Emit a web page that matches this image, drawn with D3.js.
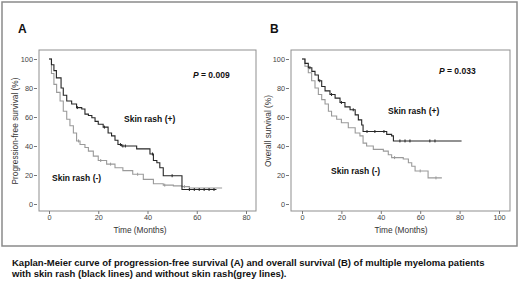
<!DOCTYPE html>
<html>
<head>
<meta charset="utf-8">
<script src="https://cdn.jsdelivr.net/npm/d3@7"></script>
<style>
  body { margin: 0; background: #fff; }
  svg { display: block; font-family: "Liberation Sans", Arial, sans-serif; }
</style>
</head>
<body>
<svg id="chart" width="520" height="281"></svg>
<script>
// panel A: progression-free survival
const pfsTimePos = [0, 1, 2, 3, 4.9, 5.8, 7.2, 9.2, 11.2, 13.3, 14.6, 16, 17.4, 18.7, 20, 22, 24, 25.4, 26.8, 28, 29.5, 34, 35.6, 39.6, 41, 42.4, 43.8, 45, 46.4, 53.2, 54, 68];
const pfsSurvPos = [100, 96, 92, 87, 80, 75, 71, 69, 66.5, 65.5, 62, 61, 59.5, 57, 55, 53, 49, 47, 44, 41, 40, 40, 38, 38, 34.5, 30, 28.5, 25, 19.5, 19.5, 10, 10];
const pfsTimeNeg = [0, 1, 2, 3.1, 4.5, 5.8, 7.2, 8.5, 9.9, 11.2, 12.6, 14.6, 16, 18, 20, 23.4, 26.8, 30, 34, 38.3, 42.4, 46.4, 50.5, 54, 57, 70.3];
const pfsSurvNeg = [100, 90, 82.5, 77, 71, 64, 58.5, 54, 49, 43.5, 41, 39, 36.5, 33, 30, 27.5, 25, 23, 20.5, 17, 14, 13, 12.5, 12, 11, 11];
const pfsCensorPos = [11.5, 22.5, 29, 30, 31, 42, 50, 57, 59, 61, 63, 65, 67];
const pfsCensorNeg = [12, 21, 25, 36, 47, 55];

// panel B: overall survival
const osTimePos = [0, 1.5, 3.2, 5, 6.6, 8.3, 10, 11.7, 14.2, 16.8, 19.3, 21.8, 24.4, 27, 28.6, 30.3, 31, 42, 43, 45.5, 46.4, 81];
const osSurvPos = [100, 97, 94, 91.5, 89, 85, 81, 78, 75.5, 73, 70, 67, 65, 61.5, 58, 54.5, 50, 50, 48, 47, 43.5, 43.5];
const osTimeNeg = [0, 1.5, 3.2, 4.9, 6.6, 8.3, 10, 11.7, 13.4, 15, 17.6, 20, 23.5, 27, 29.4, 31, 32.8, 36.2, 41.3, 43.8, 45.5, 51.4, 54, 55.7, 57.4, 63.3, 64, 71];
const osSurvNeg = [100, 95, 90.5, 85, 80, 75.5, 72, 69, 64, 60.7, 58.4, 56, 52.6, 49, 47, 42, 40, 37.7, 36.5, 34, 32, 31, 28.5, 26, 22.8, 22.8, 18, 18];
const osCensorPos = [4, 9, 15, 20, 26, 33, 37, 41.6, 49.7, 52.3, 54.8, 64.9, 67.5];
const osCensorNeg = [47, 60, 68];

const yTicks = [0, 20, 40, 60, 80, 100];
const xTicksA = [0, 20, 40, 60, 80];
const xTicksB = [0, 20, 40, 60, 80, 100];

const captionLines = [
  "Kaplan-Meier curve of progression-free survival (A) and overall survival (B) of multiple myeloma patients",
  "with skin rash (black lines) and without skin rash(grey lines)."
];

const svg = d3.select("#chart");
const black = "#262626", grey = "#9a9a9a";

// outer box
svg.append("rect")
  .attr("x", 2).attr("y", 2).attr("width", 515).attr("height", 244)
  .attr("fill", "none").attr("stroke", "#8a8a8a").attr("stroke-width", 1.5);

const panels = [
  { letter: "A", letterX: 18, frame: [39, 50, 256, 211], xr: [49, 246], xMax: 80, xTicks: xTicksA,
    yTitle: "Progression-free survival (%)", yTitleX: 15, xTitleX: 140,
    pos: [pfsTimePos, pfsSurvPos, pfsCensorPos], neg: [pfsTimeNeg, pfsSurvNeg, pfsCensorNeg],
    p: "0.009", pX: 193, pY: 78, plus: [124, 122], minus: [52, 181] },
  { letter: "B", letterX: 270, frame: [291, 50, 510, 211], xr: [302, 499], xMax: 100, xTicks: xTicksB,
    yTitle: "Overall survival (%)", yTitleX: 268, xTitleX: 401,
    pos: [osTimePos, osSurvPos, osCensorPos], neg: [osTimeNeg, osSurvNeg, osCensorNeg],
    p: "0.033", pX: 439, pY: 74, plus: [388, 114], minus: [331, 174] }
];

function survAt(times, surv, t) {
  let s = surv[0];
  for (let i = 0; i < times.length; i++) if (times[i] <= t) s = surv[i];
  return s;
}

panels.forEach(p => {
  const [fx0, fy0, fx1, fy1] = p.frame;
  const x = d3.scaleLinear().domain([0, p.xMax]).range(p.xr);
  const y = d3.scaleLinear().domain([0, 100]).range([204, 59]);
  const g = svg.append("g");

  g.append("text").attr("x", p.letterX).attr("y", 33)
    .attr("font-size", 12).attr("font-weight", "bold").attr("fill", "#111").text(p.letter);

  g.append("rect")
    .attr("x", fx0).attr("y", fy0).attr("width", fx1 - fx0).attr("height", fy1 - fy0)
    .attr("fill", "none").attr("stroke", "#8f8f8f").attr("stroke-width", 1);

  const yAxis = g.append("g").attr("transform", `translate(${fx0 - 2},0)`)
    .call(d3.axisLeft(y).tickValues(yTicks).tickSize(3).tickPadding(1));
  const xAxis = g.append("g").attr("transform", `translate(0,${fy1})`)
    .call(d3.axisBottom(x).tickValues(p.xTicks).tickSize(3).tickPadding(1));
  [yAxis, xAxis].forEach(a => {
    a.select(".domain").remove();
    a.selectAll("line").attr("stroke", "#777");
    a.selectAll("text").attr("font-size", 7.3).attr("fill", "#444")
      .attr("font-family", "Liberation Sans, Arial, sans-serif");
  });

  g.append("text").attr("x", p.xTitleX).attr("y", 233).attr("text-anchor", "middle")
    .attr("font-size", 8.3).attr("fill", "#333").text("Time (Months)");
  g.append("text").attr("transform", `translate(${p.yTitleX + 3},131) rotate(-90)`)
    .attr("text-anchor", "middle").attr("font-size", 8.3).attr("fill", "#333").text(p.yTitle);

  const line = d3.line().curve(d3.curveStepAfter).x(d => x(d[0])).y(d => y(d[1]));
  [[p.neg, grey], [p.pos, black]].forEach(([[ts, ss, cs], col]) => {
    g.append("path").datum(ts.map((t, i) => [t, ss[i]]))
      .attr("d", line).attr("fill", "none").attr("stroke", col).attr("stroke-width", 1.1);
    g.selectAll(null).data(cs).enter().append("line")
      .attr("x1", d => x(d)).attr("x2", d => x(d))
      .attr("y1", d => y(survAt(ts, ss, d)) - 1.5).attr("y2", d => y(survAt(ts, ss, d)) + 1.5)
      .attr("stroke", col).attr("stroke-width", 1);
  });

  const pt = g.append("text").attr("x", p.pX).attr("y", p.pY)
    .attr("font-size", 8.5).attr("font-weight", "bold").attr("fill", "#111");
  pt.append("tspan").attr("font-style", "italic").text("P");
  pt.append("tspan").text(" = " + p.p);

  g.append("text").attr("x", p.plus[0]).attr("y", p.plus[1])
    .attr("font-size", 8.5).attr("font-weight", "bold").attr("fill", "#111").text("Skin rash (+)");
  g.append("text").attr("x", p.minus[0]).attr("y", p.minus[1])
    .attr("font-size", 8.5).attr("font-weight", "bold").attr("fill", "#111").text("Skin rash (-)");
});

svg.selectAll("text.caption").data(captionLines).enter().append("text")
  .attr("class", "caption")
  .attr("x", 12).attr("y", (d, i) => 266 + i * 11)
  .attr("font-size", 9.5).attr("font-weight", "bold").attr("fill", "#111")
  .text(d => d);
</script>
</body>
</html>
